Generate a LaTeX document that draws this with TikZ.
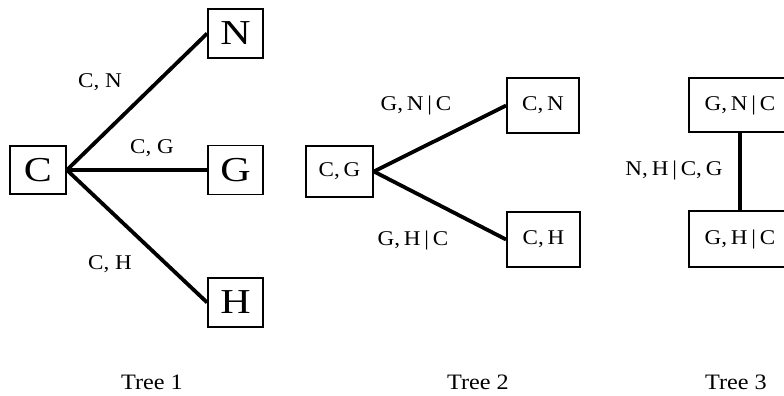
\documentclass[tikz,border=0pt]{standalone}
\usepackage{fontspec}
\setmainfont{Liberation Serif}
\newcommand{\stretchtxt}[2]{\scalebox{#1}[1]{#2}}
\begin{document}
\begin{tikzpicture}[x=1pt,y=-1pt,
  bigbox/.style={draw,line width=1.8pt,inner sep=0pt,minimum width=55pt,minimum height=49pt,font=\fontsize{35}{40}\selectfont},
  smallbox/.style={draw,line width=1.8pt,inner sep=0pt,font=\fontsize{21}{24}\selectfont},
  lab/.style={inner sep=0pt,font=\fontsize{21}{24}\selectfont},
  treelab/.style={inner sep=0pt,font=\fontsize{22}{26}\selectfont},
  edge/.style={line width=3.8pt}]
\useasboundingbox (0,0) rectangle (784,396);
\clip (0,0) rectangle (784,396);
% Tree 1
\node[bigbox,minimum width=56pt,minimum height=48pt] (c) at (38,170) {\stretchtxt{1.2}{C}};
\node[bigbox] (n) at (235.5,33.5) {\stretchtxt{1.2}{N}};
\node[bigbox] (g) at (235.5,170) {\stretchtxt{1.2}{G}};
\node[bigbox] (h) at (235.5,302.5) {\stretchtxt{1.2}{H}};
\draw[edge] (c.east) -- (n.west);
\draw[edge] (c.east) -- (g.west);
\draw[edge] (c.east) -- (h.west);
\node[lab] (lcn) at (100,82) {\stretchtxt{1.1}{C, N}};
\node[lab] (lcg) at (152,148) {\stretchtxt{1.1}{C, G}};
\node[lab] (lch) at (110,264) {\stretchtxt{1.1}{C, H}};
% Tree 2
\node[smallbox,minimum width=67pt,minimum height=51pt] (cg) at (339.5,171.5) {\stretchtxt{1.1}{C,\,G}};
\node[smallbox,minimum width=72pt,minimum height=55pt] (cn) at (543,105.5) {\stretchtxt{1.1}{C,\,N}};
\node[smallbox,minimum width=73pt,minimum height=55pt] (ch) at (543.5,239.5) {\stretchtxt{1.1}{C,\,H}};
\draw[edge] (cg.east) -- (cn.west);
\draw[edge] (cg.east) -- (ch.west);
\node[lab] (lgn) at (416,105) {\stretchtxt{1.1}{G,\,N\,|\,C}};
\node[lab] (lgh) at (413,240) {\stretchtxt{1.1}{G,\,H\,|\,C}};
% Tree 3
\node[smallbox,minimum width=102pt,minimum height=54pt] (gn) at (740,105) {\stretchtxt{1.1}{G,\,N\,|\,C}};
\node[smallbox,minimum width=102pt,minimum height=56pt] (gh) at (740,239) {\stretchtxt{1.1}{G,\,H\,|\,C}};
\draw[edge] (gn.south) -- (gh.north);
\node[lab] (lnh) at (674,170) {\stretchtxt{1.1}{N,\,H\,|\,C,\,G}};
% Tree labels
\node[treelab] (t1) at (152,382) {\stretchtxt{1.1}{Tree 1}};
\node[treelab] (t2) at (478,382) {\stretchtxt{1.1}{Tree 2}};
\node[treelab] (t3) at (736,382) {\stretchtxt{1.1}{Tree 3}};
\end{tikzpicture}
\end{document}
